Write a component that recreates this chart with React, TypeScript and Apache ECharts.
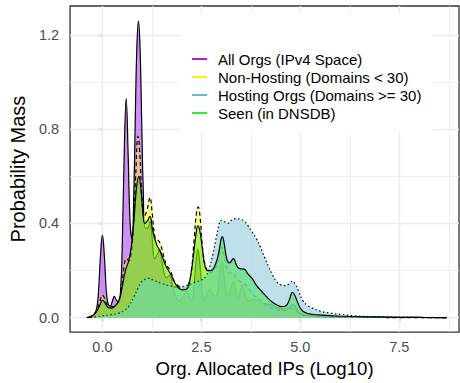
import React, { useEffect, useRef } from "react";
import * as echarts from "echarts";

const FONT = "'Liberation Sans', Arial, Helvetica, sans-serif";

// Category / legend names
const seriesNames = [
  "All Orgs (IPv4 Space)",
  "Non-Hosting (Domains < 30)",
  "Hosting Orgs (Domains >= 30)",
  "Seen (in DNSDB)",
];

// Axis ticks / grid positions
const xMajor = [0, 2.5, 5, 7.5];
const xMinor = [1.25, 3.75, 6.25, 8.75];
const yMajor = [0, 0.4, 0.8, 1.2];
const yMinor = [0.2, 0.6, 1.0];
const X_MIN = -0.8175;
const X_MAX = 9.0075;
const Y_MIN = -0.0612;
const Y_MAX = 1.3228;

// Density values [log10 IPs, probability mass]
const allOrgs = [
  [-0.4, 0], [-0.3, 0.005], [-0.22, 0.012], [-0.15, 0.035], [-0.1, 0.11], [-0.05, 0.26], [0.0, 0.35],
  [0.05, 0.26], [0.1, 0.11], [0.15, 0.055], [0.2, 0.05], [0.25, 0.07], [0.3, 0.09], [0.35, 0.075],
  [0.41, 0.065], [0.46, 0.12], [0.5, 0.3], [0.55, 0.69], [0.6, 0.93], [0.65, 0.69], [0.7, 0.4],
  [0.75, 0.335], [0.79, 0.5], [0.83, 0.85], [0.87, 1.15], [0.91, 1.26], [0.95, 1.15], [0.99, 0.85],
  [1.03, 0.55], [1.08, 0.38], [1.14, 0.38], [1.2, 0.41], [1.26, 0.33], [1.32, 0.25],
  [1.39, 0.27], [1.45, 0.29], [1.52, 0.22], [1.62, 0.17], [1.7, 0.18], [1.78, 0.13], [1.85, 0.09],
  [1.95, 0.07], [2.04, 0.09], [2.12, 0.11], [2.19, 0.09], [2.25, 0.07], [2.31, 0.13], [2.36, 0.23],
  [2.41, 0.29], [2.46, 0.23], [2.52, 0.12], [2.58, 0.07], [2.65, 0.1], [2.71, 0.12], [2.78, 0.1],
  [2.87, 0.09], [2.95, 0.17], [3.02, 0.237], [3.09, 0.15], [3.16, 0.09], [3.24, 0.12], [3.31, 0.153],
  [3.37, 0.11], [3.42, 0.082], [3.48, 0.11], [3.53, 0.138], [3.6, 0.1], [3.7, 0.07], [3.83, 0.08],
  [3.95, 0.065], [4.1, 0.06], [4.28, 0.054], [4.45, 0.04], [4.6, 0.035], [4.72, 0.045], [4.8, 0.057],
  [4.88, 0.045], [4.98, 0.02], [5.15, 0.01], [5.5, 0.005], [6.5, 0.002], [8.0, 0.001], [8.7, 0],
];

const nonHosting = [
  [-0.35, 0], [-0.25, 0.01], [-0.15, 0.03], [-0.07, 0.065], [0.0, 0.096], [0.06, 0.08], [0.12, 0.055],
  [0.2, 0.045], [0.3, 0.05], [0.4, 0.065], [0.48, 0.12], [0.55, 0.22], [0.61, 0.25], [0.67, 0.24],
  [0.72, 0.27], [0.78, 0.38], [0.84, 0.6], [0.9, 0.77], [0.95, 0.68], [1.0, 0.5], [1.06, 0.43],
  [1.13, 0.46], [1.2, 0.51], [1.26, 0.44], [1.33, 0.34], [1.4, 0.33], [1.47, 0.31], [1.55, 0.26],
  [1.63, 0.22], [1.72, 0.2], [1.8, 0.16], [1.88, 0.14], [1.97, 0.13], [2.06, 0.125], [2.15, 0.135],
  [2.24, 0.19], [2.32, 0.34], [2.38, 0.45], [2.42, 0.47], [2.47, 0.42], [2.54, 0.28], [2.62, 0.21],
  [2.72, 0.19], [2.82, 0.2], [2.92, 0.24], [3.02, 0.3], [3.1, 0.24], [3.2, 0.19], [3.3, 0.188],
  [3.42, 0.16], [3.58, 0.146], [3.7, 0.12], [3.8, 0.1], [4.03, 0.068], [4.2, 0.045], [4.4, 0.033],
  [4.6, 0.03], [4.75, 0.038], [4.85, 0.035], [5.0, 0.015], [5.3, 0.006], [6.0, 0.002], [8.7, 0],
];

const hosting = [
  [-0.3, 0], [-0.15, 0.004], [0.0, 0.008], [0.2, 0.012], [0.4, 0.018], [0.55, 0.03], [0.66, 0.047],
  [0.8, 0.09], [0.9, 0.125], [0.99, 0.153], [1.08, 0.163], [1.16, 0.167], [1.3, 0.158], [1.49, 0.146],
  [1.7, 0.135], [1.91, 0.13], [2.1, 0.135], [2.33, 0.15], [2.5, 0.16], [2.61, 0.175], [2.7, 0.21],
  [2.79, 0.27], [2.87, 0.335], [2.94, 0.39], [2.99, 0.413], [3.06, 0.41], [3.16, 0.4], [3.27, 0.415],
  [3.37, 0.42], [3.48, 0.418], [3.58, 0.41], [3.68, 0.39], [3.78, 0.364], [3.89, 0.335], [3.99, 0.3],
  [4.1, 0.255], [4.2, 0.216], [4.3, 0.18], [4.4, 0.153], [4.5, 0.14], [4.6, 0.136], [4.7, 0.142],
  [4.8, 0.155], [4.88, 0.14], [4.95, 0.115], [5.07, 0.07], [5.18, 0.052], [5.28, 0.042], [5.5, 0.028],
  [5.78, 0.019], [6.03, 0.014], [6.36, 0.008], [6.7, 0.004], [7.03, 0.002], [7.8, 0.001], [8.7, 0],
];

const seen = [
  [-0.35, 0], [-0.25, 0.008], [-0.15, 0.025], [-0.06, 0.055], [0.0, 0.075], [0.06, 0.065], [0.13, 0.045],
  [0.22, 0.04], [0.32, 0.05], [0.42, 0.075], [0.5, 0.13], [0.58, 0.2], [0.66, 0.24], [0.73, 0.3],
  [0.8, 0.42], [0.86, 0.55], [0.92, 0.6], [0.97, 0.55], [1.02, 0.45], [1.07, 0.4], [1.13, 0.41],
  [1.2, 0.43], [1.27, 0.37], [1.37, 0.31], [1.49, 0.27], [1.6, 0.22], [1.74, 0.18], [1.84, 0.145],
  [1.93, 0.125], [2.03, 0.118], [2.15, 0.125], [2.22, 0.17], [2.29, 0.25], [2.36, 0.35], [2.41, 0.39],
  [2.46, 0.37], [2.52, 0.3], [2.59, 0.22], [2.66, 0.2], [2.74, 0.2], [2.84, 0.22], [2.93, 0.27],
  [3.0, 0.335], [3.03, 0.343], [3.08, 0.31], [3.14, 0.25], [3.21, 0.232], [3.31, 0.251], [3.38, 0.225],
  [3.45, 0.209], [3.58, 0.206], [3.68, 0.185], [3.78, 0.167], [3.9, 0.135], [4.03, 0.11], [4.15, 0.088],
  [4.28, 0.068], [4.4, 0.055], [4.53, 0.047], [4.63, 0.05], [4.72, 0.075], [4.8, 0.108], [4.86, 0.095],
  [4.93, 0.065], [5.03, 0.033], [5.15, 0.02], [5.3, 0.014], [5.45, 0.012], [6.0, 0.006], [7.0, 0.003],
  [8.0, 0.001], [8.7, 0],
];

const seriesData = [allOrgs, nonHosting, hosting, seen];
const keyColors = ["#A020F0", "#F5F500", "#6FB7CE", "#2EEB2E"];
const fillColors = ["#A020F0", "#FFFF00", "#ADD8E6", "#00E000"];
const fillOpacity = [0.5, 0.5, 0.8, 0.35];
const lineTypes: any[] = ["solid", [4, 3], [1.5, 2.5], "solid"];

export default function App() {
  const ref = useRef<HTMLDivElement>(null);
  useEffect(() => {
    const chart = echarts.init(ref.current!, null, { renderer: "svg" });
    const gridLines = [
      ...xMajor.map((v) => ({ xAxis: v, lineStyle: { color: "#EBEBEB", width: 1.4, type: "solid" } })),
      ...xMinor.map((v) => ({ xAxis: v, lineStyle: { color: "#EBEBEB", width: 0.8, type: "solid" } })),
      ...yMajor.map((v) => ({ yAxis: v, lineStyle: { color: "#EBEBEB", width: 1.4, type: "solid" } })),
      ...yMinor.map((v) => ({ yAxis: v, lineStyle: { color: "#EBEBEB", width: 0.8, type: "solid" } })),
    ];
    const option: any = {
      animation: false,
      textStyle: { fontFamily: FONT },
      grid: {
        left: 66, right: 1, top: 6, bottom: 49,
        show: true, borderColor: "#333333", borderWidth: 1.3, backgroundColor: "transparent",
      },
      legend: {
        orient: "vertical",
        left: 180,
        top: 13,
        padding: [37, 11, 10, 11],
        backgroundColor: "#FFFFFF",
        itemWidth: 15,
        itemHeight: 18,
        itemGap: 0,
        selectedMode: false,
        textStyle: { fontSize: 15, color: "#000", fontFamily: FONT, lineHeight: 18, padding: [0, 0, 0, 6] },
        data: seriesNames.map((n, i) => ({
          name: n,
          lineStyle: { color: keyColors[i], width: 2, type: "solid", opacity: 1 },
          itemStyle: { color: "rgba(0,0,0,0)", borderWidth: 0, opacity: 0 },
        })),
      },
      xAxis: {
        type: "value",
        min: X_MIN,
        max: X_MAX,
        name: "Org. Allocated IPs (Log10)",
        nameLocation: "middle",
        nameGap: 26,
        nameTextStyle: { fontSize: 18.6, color: "#000", fontFamily: FONT },
        axisLine: { show: false },
        axisTick: { show: true, length: 4, customValues: xMajor, lineStyle: { color: "#333333", width: 1.3 } },
        axisLabel: {
          customValues: xMajor,
          formatter: (v: number) => v.toFixed(1),
          color: "#4D4D4D",
          fontSize: 14.5,
          margin: 7,
          fontFamily: FONT,
        },
        splitLine: { show: false },
      },
      yAxis: {
        type: "value",
        min: Y_MIN,
        max: Y_MAX,
        name: "Probability Mass",
        nameLocation: "middle",
        nameGap: 34,
        nameTextStyle: { fontSize: 20, color: "#000", fontFamily: FONT },
        axisLine: { show: false },
        axisTick: { show: true, length: 4, customValues: yMajor, lineStyle: { color: "#333333", width: 1.3 } },
        axisLabel: {
          customValues: yMajor,
          formatter: (v: number) => v.toFixed(1),
          color: "#4D4D4D",
          fontSize: 14.5,
          margin: 11,
          fontFamily: FONT,
        },
        splitLine: { show: false },
      },
      series: [
        {
          type: "line",
          name: "__grid",
          data: [],
          z: 1,
          silent: true,
          markLine: {
            z: 1,
            silent: true,
            animation: false,
            symbol: ["none", "none"],
            label: { show: false },
            emphasis: { disabled: true },
            data: gridLines,
          },
        },
        ...seriesNames.map((n, i) => ({
          type: "line",
          name: n,
          data: seriesData[i],
          z: 2 + i,
          symbol: "none",
          showSymbol: false,
          smooth: 0.45,
          silent: true,
          emphasis: { disabled: true },
          itemStyle: { color: keyColors[i] },
          lineStyle: { color: "#000000", width: 1.2, type: lineTypes[i] },
          areaStyle: { color: fillColors[i], opacity: fillOpacity[i] },
        })),
      ],
    };
    chart.setOption(option);
    return () => chart.dispose();
  }, []);
  return (
    <div
      ref={ref}
      style={{ position: "absolute", left: 0, top: 0, width: 460, height: 383, background: "#fff" }}
    />
  );
}
